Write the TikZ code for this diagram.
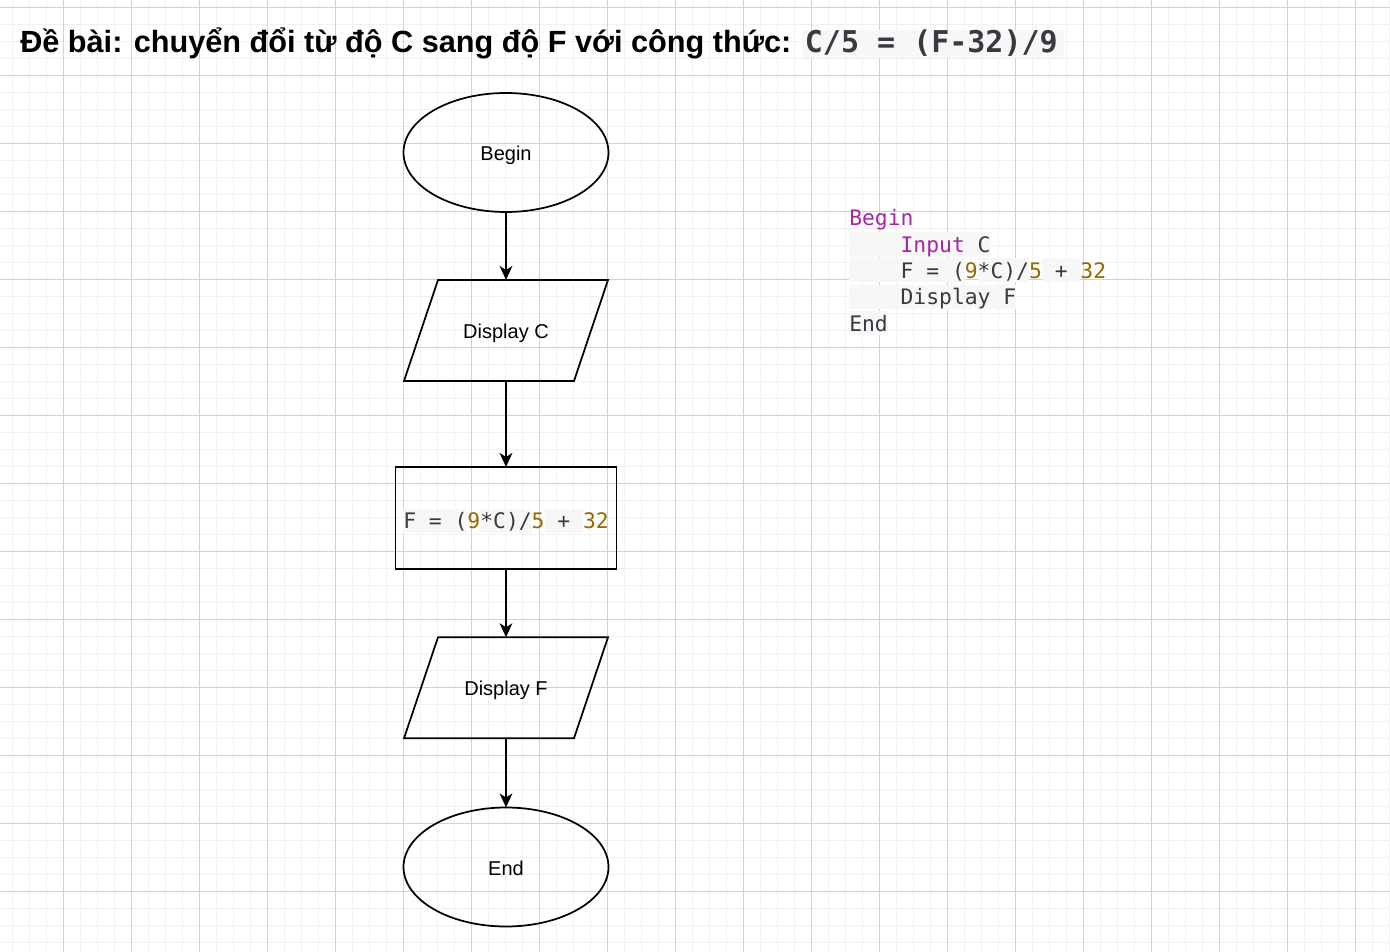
\documentclass[tikz,border=0pt]{standalone}
\usepackage{fontspec}
\setmainfont{Liberation Sans}
\newfontfamily\codefont{DejaVu Sans Mono}
\usepackage{tikz}
\usetikzlibrary{arrows,arrows.meta,backgrounds,shapes.geometric}

\definecolor{gridminor}{HTML}{F1F1F1}
\definecolor{gridmajor}{HTML}{D2D2D2}
\definecolor{codebg}{HTML}{F7F7F7}
\definecolor{codetext}{HTML}{383A42}
\definecolor{codekw}{HTML}{A626A4}
\definecolor{codenum}{HTML}{986801}

\newcommand{\spanbg}[1]{{\setlength{\fboxsep}{0pt}\colorbox{codebg}{\rule[-3pt]{0pt}{18pt}#1}}}
\newcommand{\ckw}[1]{\textcolor{codekw}{#1}}
\newcommand{\cnum}[1]{\textcolor{codenum}{#1}}
\newcommand{\cind}{\phantom{0000}}

\tikzset{
  terminal/.style={draw, ellipse, line width=1.3pt, minimum width=153.75pt, minimum height=89.25pt, inner sep=0pt, outer sep=0pt, text height=14pt, text depth=2pt, font=\fontsize{15pt}{18pt}\selectfont},
  io/.style={rectangle, minimum width=102pt, minimum height=75.75pt, inner sep=0pt, outer sep=0pt, text height=14pt, text depth=2pt, font=\fontsize{15pt}{18pt}\selectfont},
  ioline/.style={line width=1.3pt, line join=miter},
  process/.style={draw, rectangle, line width=1.3pt, minimum width=165.75pt, minimum height=76.5pt, inner sep=0pt, outer sep=0pt, text height=18pt, text depth=2pt, text=codetext, font=\codefont\fontsize{16pt}{19pt}\selectfont},
  codeline/.style={anchor=base west, inner sep=0pt, text=codetext, font=\codefont\fontsize{16pt}{19pt}\selectfont},
  flow/.style={-{Stealth[length=10.5pt,width=9.5pt,inset=3pt]}, line width=1.3pt}
}

\begin{document}
\begin{tikzpicture}[x=0.75pt,y=0.75pt,yscale=-1,xscale=1]
\useasboundingbox (0,0) rectangle (1390,952);
\fill[white] (0,0) rectangle (1390,952);

%Grid
\foreach \i in {0,...,82} \draw[gridminor, line width=0.75pt] ({-4.7+17*\i},0) -- ({-4.7+17*\i},952);
\foreach \j in {0,...,57} \draw[gridminor, line width=0.75pt] (0,{-9.7+17*\j}) -- (1390,{-9.7+17*\j});
\foreach \i in {0,...,20} \draw[gridmajor, line width=0.75pt] ({-4.7+68*\i},0) -- ({-4.7+68*\i},952);
\foreach \j in {0,...,14} \draw[gridmajor, line width=0.75pt] (0,{7.3+68*\j}) -- (1390,{7.3+68*\j});

% Text Node
\node[anchor=base west, inner sep=0pt] (title) at (20,52.7) {\fontsize{23pt}{27pt}\selectfont\bfseries Đề bài: chuyển đổi từ độ C sang độ F với công thức: {\setlength{\fboxsep}{0pt}\colorbox{codebg}{\rule[-4pt]{0pt}{21pt}\hspace{1.7pt}{\codefont\bfseries\fontsize{22.5pt}{27pt}\selectfont\color{codetext}C/5 = (F-32)/9}\hspace{5pt}}}};

%Shape: Ellipse
\node[terminal] (start) at (506,152.5) {Begin};
%Shape: Parallelogram
\node[io] (dispC) at (506,330.5) {Display C};
\draw[ioline] ([xshift=-25.5pt]dispC.south west) -- (dispC.north west) -- ([xshift=25.5pt]dispC.north east) -- (dispC.south east) -- cycle;
%Shape: Rectangle
\node[process] (calc) at (506,518) {\spanbg{F = (}\cnum{9}\spanbg{*C)/}\cnum{5}\spanbg{ + }\cnum{32}};
%Shape: Parallelogram
\node[io] (dispF) at (506,687.8) {Display F};
\draw[ioline] ([xshift=-25.5pt]dispF.south west) -- (dispF.north west) -- ([xshift=25.5pt]dispF.north east) -- (dispF.south east) -- cycle;
%Shape: Ellipse
\node[terminal] (stop) at (506,867) {End};

%Straight Lines
\draw[flow] (start) -- (dispC);
\draw[flow] (dispC) -- (calc);
\draw[flow] (calc) -- (dispF);
\draw[flow] (dispF) -- (stop);

% Text Node
\node[codeline] (code1) at (849,225.7) {\ckw{Begin}};
\node[codeline] (code2) at (849,252.3) {\spanbg{\cind\ckw{Input} C}};
\node[codeline] (code3) at (849,278.5) {\spanbg{\cind F = (}\cnum{9}\spanbg{*C)/}\cnum{5}\spanbg{ + }\cnum{32}};
\node[codeline] (code4) at (849,305) {\spanbg{\cind Display F}};
\node[codeline] (code5) at (849,331.3) {\spanbg{End}};

\end{tikzpicture}
\end{document}
